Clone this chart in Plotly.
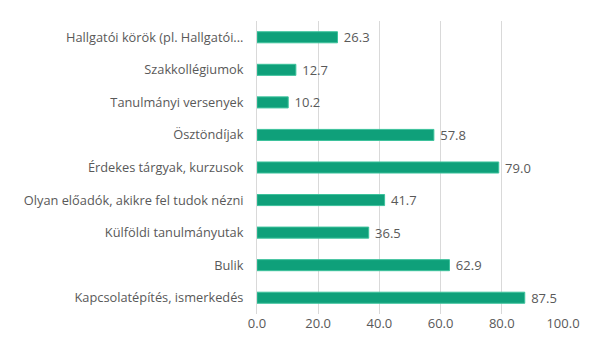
import plotly.graph_objects as go

categories = [
    "Hallgatói körök (pl. Hallgatói...",
    "Szakkollégiumok",
    "Tanulmányi versenyek",
    "Ösztöndíjak",
    "Érdekes tárgyak, kurzusok",
    "Olyan előadók, akikre fel tudok nézni",
    "Külföldi tanulmányutak",
    "Bulik",
    "Kapcsolatépítés, ismerkedés",
]
values = [26.3, 12.7, 10.2, 57.8, 79.0, 41.7, 36.5, 62.9, 87.5]
tick_vals = [0, 20, 40, 60, 80, 100]
tick_text = ["0.0", "20.0", "40.0", "60.0", "80.0", "100.0"]

fig = go.Figure(go.Bar(
    y=categories, x=values, orientation="h",
    marker=dict(color="#0FA07A", line=dict(color="#3CC29C", width=1)),
    text=[f" {v:.1f}" for v in values], textposition="outside",
    constraintext="none",
    textfont=dict(color="#595959", size=13, family="Open Sans"),
    cliponaxis=False,
))
fig.update_layout(
    width=600, height=362,
    margin=dict(l=249, r=45, t=13, b=56),
    plot_bgcolor="white", paper_bgcolor="white",
    bargap=0.66,
    showlegend=False,
    font=dict(family="Open Sans", color="#595959", size=13),
)
fig.update_xaxes(range=[0, 100], tickvals=tick_vals, ticktext=tick_text,
                 showgrid=True, gridcolor="#D9D9D9", gridwidth=1,
                 zeroline=False, showline=False, ticks="", automargin=False,
                 tickfont=dict(size=13, color="#595959"))
fig.update_yaxes(autorange="reversed", showgrid=False, showline=True,
                 linecolor="#D9D9D9", ticks="", ticksuffix="   ", automargin=False,
                 tickfont=dict(size=12.8, color="#595959"))
fig.write_html("out.html")
